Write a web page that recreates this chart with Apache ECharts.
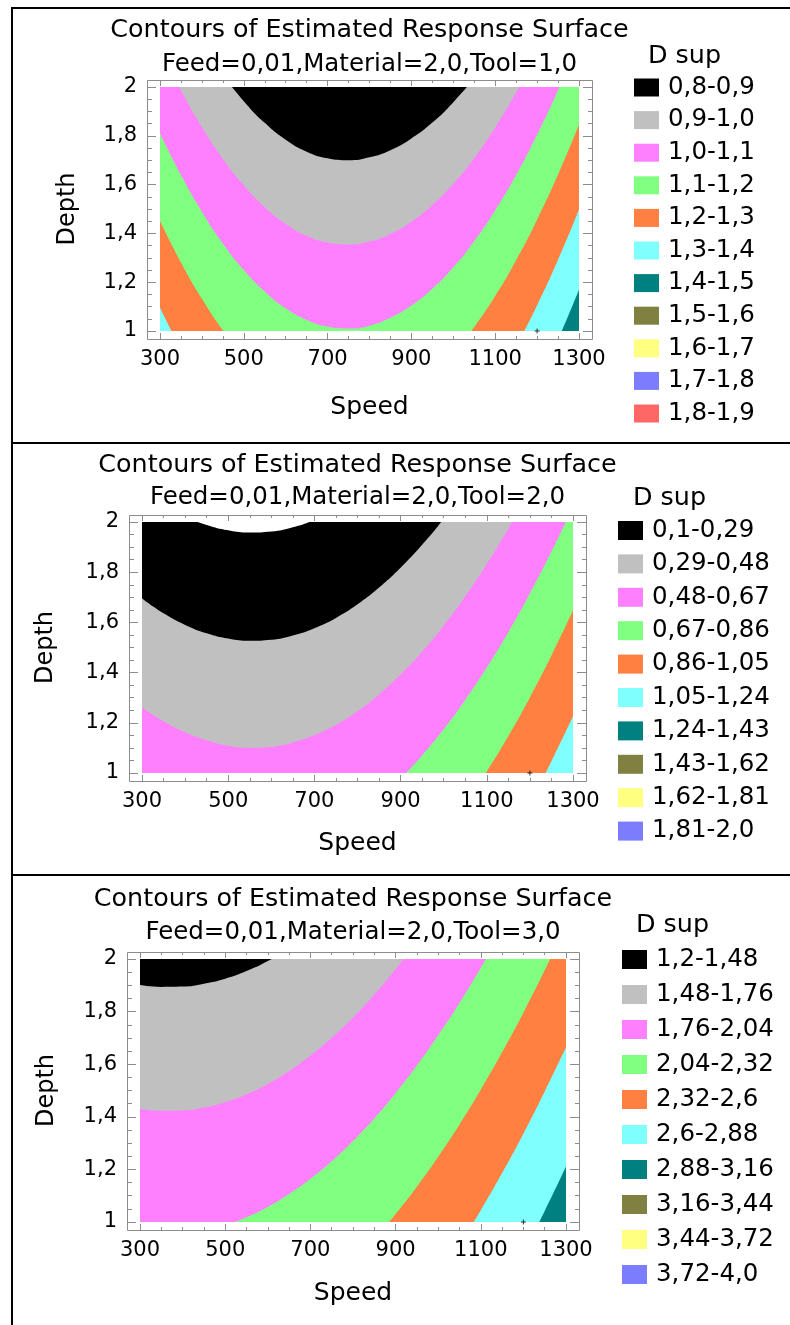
<!DOCTYPE html>
<html>
<head>
<meta charset="utf-8">
<title>Contours of Estimated Response Surface</title>
<script src="https://cdn.jsdelivr.net/npm/echarts@6.0.0/dist/echarts.min.js"></script>
<style>
  html, body { margin: 0; padding: 0; background: #fff; }
  #chart { width: 790px; height: 1325px; }
</style>
</head>
<body>
<div id="chart"></div>
<script>
// ---- data ----
const SPEED = [300, 350, 400, 450, 500, 550, 600, 650, 700, 750, 800,
  850, 900, 950, 1000, 1050, 1100, 1150, 1200, 1250, 1300];
const SPEED_TICKS = [300, 500, 700, 900, 1100, 1300];
const DEPTH_MIN = 1;
const DEPTH_MAX = 2;
const DESIGN_POINT = [1200, 1];
const FEED = '0,01';
const MATERIAL = '2,0';

const BAND_COLORS = ['#000000', '#C0C0C0', '#FF80FF', '#80FF80', '#FF8040', '#80FFFF',
  '#008080', '#808040', '#FFFF80', '#7C7CFF', '#FF6666'];

// Tool=1,0
const BANDS_1 = ['0,8-0,9', '0,9-1,0', '1,0-1,1', '1,1-1,2', '1,2-1,3', '1,3-1,4',
  '1,4-1,5', '1,5-1,6', '1,6-1,7', '1,7-1,8', '1,8-1,9'];
// depth of each contour line at SPEED (upper limit of the band with the same index)
const T1_0_9 = [2.505, 2.333, 2.182, 2.052, 1.942, 1.853, 1.784, 1.735, 1.708, 1.700, 1.712,
  1.741, 1.789, 1.854, 1.938, 2.039, 2.159, 2.296, 2.452, 2.625, 2.817];
const T1_1_0 = [2.158, 1.987, 1.836, 1.706, 1.597, 1.507, 1.439, 1.390, 1.363, 1.355, 1.367,
  1.398, 1.448, 1.516, 1.603, 1.709, 1.834, 1.978, 2.140, 2.321, 2.522];
const T1_1_1 = [1.809, 1.639, 1.489, 1.359, 1.250, 1.162, 1.093, 1.045, 1.018, 1.010, 1.022,
  1.054, 1.104, 1.173, 1.261, 1.368, 1.494, 1.639, 1.804, 1.987, 2.189];
const T1_1_2 = [1.451, 1.281, 1.132, 1.003, 0.894, 0.805, 0.737, 0.689, 0.662, 0.654, 0.667,
  0.698, 0.749, 0.819, 0.908, 1.016, 1.143, 1.290, 1.456, 1.641, 1.845];
const T1_1_3 = [1.095, 0.926, 0.776, 0.648, 0.539, 0.451, 0.383, 0.335, 0.308, 0.300, 0.313,
  0.344, 0.395, 0.465, 0.555, 0.664, 0.792, 0.939, 1.106, 1.292, 1.498];
const T1_1_4 = [0.773, 0.604, 0.454, 0.326, 0.217, 0.129, 0.061, 0.013, -0.015, -0.022, -0.010,
  0.022, 0.073, 0.143, 0.232, 0.340, 0.467, 0.614, 0.780, 0.965, 1.169];

// Tool=2,0
const BANDS_2 = ['0,1-0,29', '0,29-0,48', '0,48-0,67', '0,67-0,86', '0,86-1,05',
  '1,05-1,24', '1,24-1,43', '1,43-1,62', '1,62-1,81', '1,81-2,0'];
const T2_0_1 = [2.126, 2.067, 2.021, 1.988, 1.967, 1.958, 1.962, 1.979, 2.008, 2.049, 2.103,
  2.170, 2.249, 2.340, 2.444, 2.561, 2.690, 2.831, 2.985, 3.152, 3.331];
const T2_0_29 = [1.695, 1.636, 1.590, 1.557, 1.536, 1.527, 1.531, 1.548, 1.577, 1.618, 1.672,
  1.739, 1.818, 1.909, 2.013, 2.130, 2.259, 2.400, 2.554, 2.721, 2.900];
const T2_0_48 = [1.262, 1.206, 1.162, 1.130, 1.109, 1.101, 1.105, 1.122, 1.151, 1.192, 1.246,
  1.313, 1.392, 1.483, 1.587, 1.704, 1.833, 1.974, 2.128, 2.295, 2.474];
const T2_0_67 = [0.856, 0.797, 0.751, 0.718, 0.697, 0.688, 0.692, 0.709, 0.738, 0.779, 0.833,
  0.900, 0.979, 1.070, 1.174, 1.291, 1.420, 1.561, 1.715, 1.882, 2.061];
const T2_0_86 = [0.442, 0.383, 0.337, 0.304, 0.283, 0.274, 0.278, 0.295, 0.324, 0.365, 0.419,
  0.486, 0.565, 0.656, 0.760, 0.877, 1.006, 1.147, 1.301, 1.468, 1.647];
const T2_1_05 = [0.021, -0.038, -0.084, -0.117, -0.138, -0.147, -0.143, -0.126, -0.097, -0.056, -0.002,
  0.065, 0.144, 0.235, 0.339, 0.456, 0.585, 0.726, 0.880, 1.047, 1.226];

// Tool=3,0
const BANDS_3 = ['1,2-1,48', '1,48-1,76', '1,76-2,04', '2,04-2,32', '2,32-2,6',
  '2,6-2,88', '2,88-3,16', '3,16-3,44', '3,44-3,72', '3,72-4,0'];
const T3_1_48 = [1.901, 1.894, 1.895, 1.906, 1.925, 1.954, 1.992, 2.040, 2.096, 2.161, 2.236,
  2.320, 2.413, 2.515, 2.626, 2.747, 2.876, 3.015, 3.163, 3.320, 3.486];
const T3_1_76 = [1.431, 1.423, 1.424, 1.435, 1.456, 1.486, 1.525, 1.574, 1.633, 1.701, 1.778,
  1.865, 1.962, 2.068, 2.183, 2.308, 2.443, 2.587, 2.740, 2.903, 3.076];
const T3_2_04 = [0.964, 0.956, 0.957, 0.968, 0.988, 1.018, 1.057, 1.106, 1.164, 1.231, 1.308,
  1.394, 1.490, 1.595, 1.710, 1.833, 1.967, 2.109, 2.262, 2.423, 2.594];
const T3_2_32 = [0.506, 0.499, 0.500, 0.511, 0.531, 0.561, 0.600, 0.648, 0.706, 0.773, 0.849,
  0.935, 1.030, 1.134, 1.248, 1.371, 1.503, 1.645, 1.796, 1.957, 2.127];
const T3_2_6 = [0.055, 0.048, 0.049, 0.060, 0.080, 0.109, 0.148, 0.196, 0.253, 0.320, 0.395,
  0.480, 0.575, 0.679, 0.792, 0.914, 1.045, 1.186, 1.336, 1.496, 1.664];
const T3_2_88 = [-0.400, -0.408, -0.406, -0.395, -0.375, -0.346, -0.307, -0.259, -0.202, -0.135, -0.059,
  0.026, 0.120, 0.224, 0.337, 0.460, 0.591, 0.732, 0.883, 1.042, 1.211];

// ---- layout ----
const FONT = 'DejaVu Sans';
const FRAME = '#8c8c8c';
const PAD = { left: 13, right: 13, top: 7, bottom: 8 };

const PANELS = [
  { tool: '1,0', bands: BANDS_1, curves: [T1_0_9, T1_1_0, T1_1_1, T1_1_2, T1_1_3, T1_1_4], blank: null,
    grid: { left: 160, top: 87, width: 419, height: 244 },
    titleTop: 18, subTop: 52, speedGap: 56, depthGap: 67,
    dsup: [648, 44], legend: { left: 634, top: 75, itemHeight: 18, gap: 7.6 } },
  { tool: '2,0', bands: BANDS_2, curves: [T2_0_29, T2_0_48, T2_0_67, T2_0_86, T2_1_05], blank: T2_0_1,
    grid: { left: 142, top: 522, width: 431, height: 251 },
    titleTop: 453, subTop: 485, speedGap: 50, depthGap: 71,
    dsup: [633, 486], legend: { left: 618, top: 518, itemHeight: 19, gap: 8.4 } },
  { tool: '3,0', bands: BANDS_3, curves: [T3_1_48, T3_1_76, T3_2_04, T3_2_32, T3_2_6, T3_2_88], blank: null,
    grid: { left: 140, top: 959, width: 426, height: 263 },
    titleTop: 887, subTop: 920, speedGap: 51, depthGap: 68,
    dsup: [636, 913], legend: { left: 622, top: 947, itemHeight: 19, gap: 10 } }
];

const toPoints = (depths) => depths.map((d, i) => [SPEED[i], d]);
const depthLabel = (v) => String(Math.round(v * 10) / 10).replace('.', ',');

// a filled band: everything above its upper contour line gets the band colour
function bandArea(name, color, data, gi) {
  return {
    type: 'line', name, data,
    xAxisIndex: gi * 4, yAxisIndex: gi * 2,
    smooth: 0.5, symbol: 'none', showSymbol: false, silent: true,
    color,
    lineStyle: { width: 0, color },
    areaStyle: { color, opacity: 1, origin: 'end' }
  };
}

function xAxes(gi, p) {
  const base = { type: 'value', gridIndex: gi, min: SPEED[0], max: SPEED[SPEED.length - 1],
    axisLine: { show: false }, splitLine: { show: false } };
  const tickStyle = { color: FRAME, width: 1 };
  return [
    Object.assign({}, base, { position: 'bottom', offset: PAD.bottom, interval: 100,
      axisTick: { inside: true, length: 6, lineStyle: tickStyle, customValues: SPEED_TICKS },
      axisLabel: { customValues: SPEED_TICKS, formatter: (v) => String(v), margin: 10,
        fontFamily: FONT, fontSize: 21, color: '#000' },
      name: 'Speed', nameLocation: 'middle', nameGap: p.speedGap,
      nameTextStyle: { fontFamily: FONT, fontSize: 25, color: '#000' } }),
    Object.assign({}, base, { position: 'bottom', offset: PAD.bottom, interval: 50,
      axisTick: { inside: true, length: 3, lineStyle: tickStyle }, axisLabel: { show: false } }),
    Object.assign({}, base, { position: 'top', offset: PAD.top, interval: 100,
      axisTick: { inside: true, length: 6, lineStyle: tickStyle, customValues: SPEED_TICKS },
      axisLabel: { show: false } }),
    Object.assign({}, base, { position: 'top', offset: PAD.top, interval: 50,
      axisTick: { inside: true, length: 3, lineStyle: tickStyle }, axisLabel: { show: false } })
  ];
}

function yAxes(gi, p) {
  const base = { type: 'value', gridIndex: gi, min: DEPTH_MIN, max: DEPTH_MAX, interval: 0.2,
    axisLine: { show: false }, splitLine: { show: false }, minorSplitLine: { show: false } };
  const tickStyle = { color: FRAME, width: 1 };
  return [
    Object.assign({}, base, { position: 'left', offset: PAD.left,
      axisTick: { inside: true, length: 9, lineStyle: tickStyle },
      minorTick: { show: true, splitNumber: 4, length: 5, lineStyle: tickStyle },
      axisLabel: { formatter: depthLabel, margin: 10, fontFamily: FONT, fontSize: 21, color: '#000' },
      name: 'Depth', nameLocation: 'middle', nameGap: p.depthGap, nameRotate: 90,
      nameTextStyle: { fontFamily: FONT, fontSize: 24, color: '#000' } }),
    Object.assign({}, base, { position: 'right', offset: PAD.right,
      axisTick: { inside: true, length: 9, lineStyle: tickStyle },
      minorTick: { show: true, splitNumber: 4, length: 4, lineStyle: tickStyle },
      axisLabel: { show: false } })
  ];
}

const grids = [], xAxis = [], yAxis = [], series = [], legends = [], titles = [], frames = [];
const headFont = { fontFamily: FONT, fontSize: 25.4, fontWeight: 'normal', color: '#000' };
const subFont = { fontFamily: FONT, fontSize: 24.5, fontWeight: 'normal', color: '#000' };

PANELS.forEach((p, gi) => {
  const g = p.grid;
  grids.push(Object.assign({ outerBoundsMode: 'none' }, g));
  xAxis.push(...xAxes(gi, p));
  yAxis.push(...yAxes(gi, p));

  // bands: lowest visible band fills the plot, then each band above its contour
  const floor = p.curves.length;
  series.push(bandArea(p.bands[floor], BAND_COLORS[floor],
    [[SPEED[0], DEPTH_MIN], [SPEED[SPEED.length - 1], DEPTH_MIN]], gi));
  for (let k = p.curves.length - 1; k >= 0; k--) {
    series.push(bandArea(p.bands[k], BAND_COLORS[k], toPoints(p.curves[k]), gi));
  }
  if (p.blank) series.push(bandArea('below ' + p.bands[0], '#ffffff', toPoints(p.blank), gi));
  for (let k = floor + 1; k < p.bands.length; k++) {
    series.push(bandArea(p.bands[k], BAND_COLORS[k], [], gi));
  }
  series.push({
    type: 'scatter', name: 'design point ' + p.tool, xAxisIndex: gi * 4, yAxisIndex: gi * 2,
    data: [DESIGN_POINT], symbol: 'path://M2,0H3V5H2ZM0,2H5V3H0Z', symbolSize: 5,
    itemStyle: { color: '#000' }, silent: true, z: 5
  });

  legends.push({
    left: p.legend.left, top: p.legend.top, orient: 'vertical', icon: 'rect',
    itemWidth: 25, itemHeight: p.legend.itemHeight, itemGap: p.legend.gap,
    selectedMode: false, padding: 0,
    data: p.bands.map((name, k) => ({ name, itemStyle: { color: BAND_COLORS[k], borderWidth: 0, opacity: 1 } })),
    textStyle: { fontFamily: FONT, fontSize: 24.5, color: '#000', padding: [0, 0, 0, 4] }
  });

  const fx = g.left - PAD.left, fy = g.top - PAD.top;
  const fw = g.width + PAD.left + PAD.right, fh = g.height + PAD.top + PAD.bottom;
  const cx = fx + fw / 2;
  titles.push(
    { text: 'Contours of Estimated Response Surface', left: cx, top: p.titleTop, textAlign: 'center', padding: 0, textStyle: headFont },
    { text: 'Feed=' + FEED + ',Material=' + MATERIAL + ',Tool=' + p.tool, left: cx, top: p.subTop, textAlign: 'center', padding: 0, textStyle: subFont },
    { text: 'D sup', left: p.dsup[0], top: p.dsup[1], padding: 0, textStyle: headFont }
  );
  frames.push({ type: 'rect', silent: true, z: 100,
    shape: { x: fx + 0.5, y: fy + 0.5, width: fw, height: fh },
    style: { fill: null, stroke: FRAME, lineWidth: 1 } });
});

// outer box and separators
const rule = (x1, y1, x2, y2) => ({ type: 'line', silent: true, z: 100,
  shape: { x1, y1, x2, y2 }, style: { stroke: '#000', lineWidth: 2 } });
frames.push(rule(12, 7, 12, 1325), rule(11, 8, 790, 8), rule(11, 443, 790, 443), rule(11, 875, 790, 875));

const chart = echarts.init(document.getElementById('chart'), null, { renderer: 'canvas' });
chart.setOption({
  animation: false,
  backgroundColor: '#ffffff',
  textStyle: { fontFamily: FONT },
  title: titles,
  legend: legends,
  grid: grids,
  xAxis,
  yAxis,
  series,
  graphic: { elements: frames }
});
</script>
</body>
</html>
